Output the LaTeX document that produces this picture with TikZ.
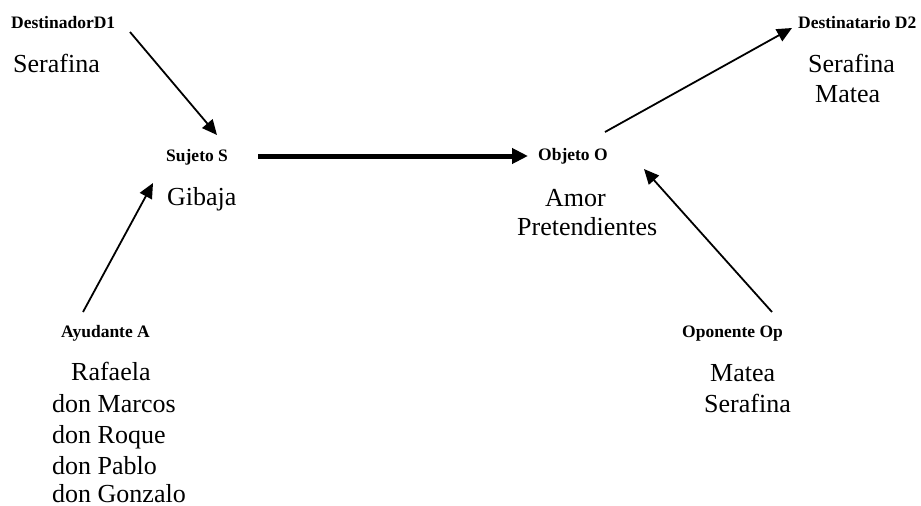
\documentclass[tikz,border=0pt]{standalone}
\usepackage{fontspec}
\setmainfont{Liberation Serif}
\usetikzlibrary{arrows.meta}
\begin{document}
\begin{tikzpicture}[x=1pt,y=-1pt,
  role/.style={inner sep=0pt,anchor=base west,font=\fontsize{17.5}{20}\selectfont\bfseries},
  who/.style={inner sep=0pt,anchor=base west,font=\fontsize{26}{31}\selectfont},
  link/.style={line width=1.8pt,-{Triangle[length=15pt,width=13.5pt]}},
  mainlink/.style={line width=5pt,-{Triangle[length=16pt,width=15pt]}}]
\useasboundingbox[fill=white] (0,0) rectangle (921,506);

% actant labels
\node[role] (d1) at (11,28) {DestinadorD1};
\node[role] (s)  at (166,161) {Sujeto S};
\node[role] (o)  at (538,160) {Objeto O};
\node[role] (d2) at (798,28) {Destinatario D2};
\node[role] (a)  at (61,337) {Ayudante A};
\node[role] (op) at (682,337) {Oponente Op};

% characters under each actant
\node[who] (serL)    at (13,72)  {Serafina};
\node[who] (gib)     at (167,205) {Gibaja};
\node[who] (amor)    at (545,206) {Amor};
\node[who] (pret)    at (517,235) {Pretendientes};
\node[who] (serR)    at (808,72)  {Serafina};
\node[who] (mateaR)  at (815,102) {Matea};
\node[who] (raf)     at (71,380)  {Rafaela};
\node[who] (marcos)  at (52,412)  {don Marcos};
\node[who] (roque)   at (52,443)  {don Roque};
\node[who] (pablo)   at (52,474)  {don Pablo};
\node[who,text depth=0pt] (gonzalo) at (52,502)  {don Gonzalo};
\node[who] (mateaOp) at (710,381) {Matea};
\node[who] (serOp)   at (704,412) {Serafina};

% connectors
\draw[link] ([shift={(119,4)}]d1.base west) -- ([shift={(51,-26)}]s.base west);
\draw[mainlink] ([shift={(92,-5)}]s.base west) -- ([shift={(-10,-4)}]o.base west);
\draw[link] ([shift={(67,-28)}]o.base west) -- ([shift={(-6,0)}]d2.base west);
\draw[link] ([shift={(90,-25)}]op.base west) -- ([shift={(106,9)}]o.base west);
\draw[link] ([shift={(22,-25)}]a.base west) -- ([shift={(-13,22)}]s.base west);
\end{tikzpicture}
\end{document}
